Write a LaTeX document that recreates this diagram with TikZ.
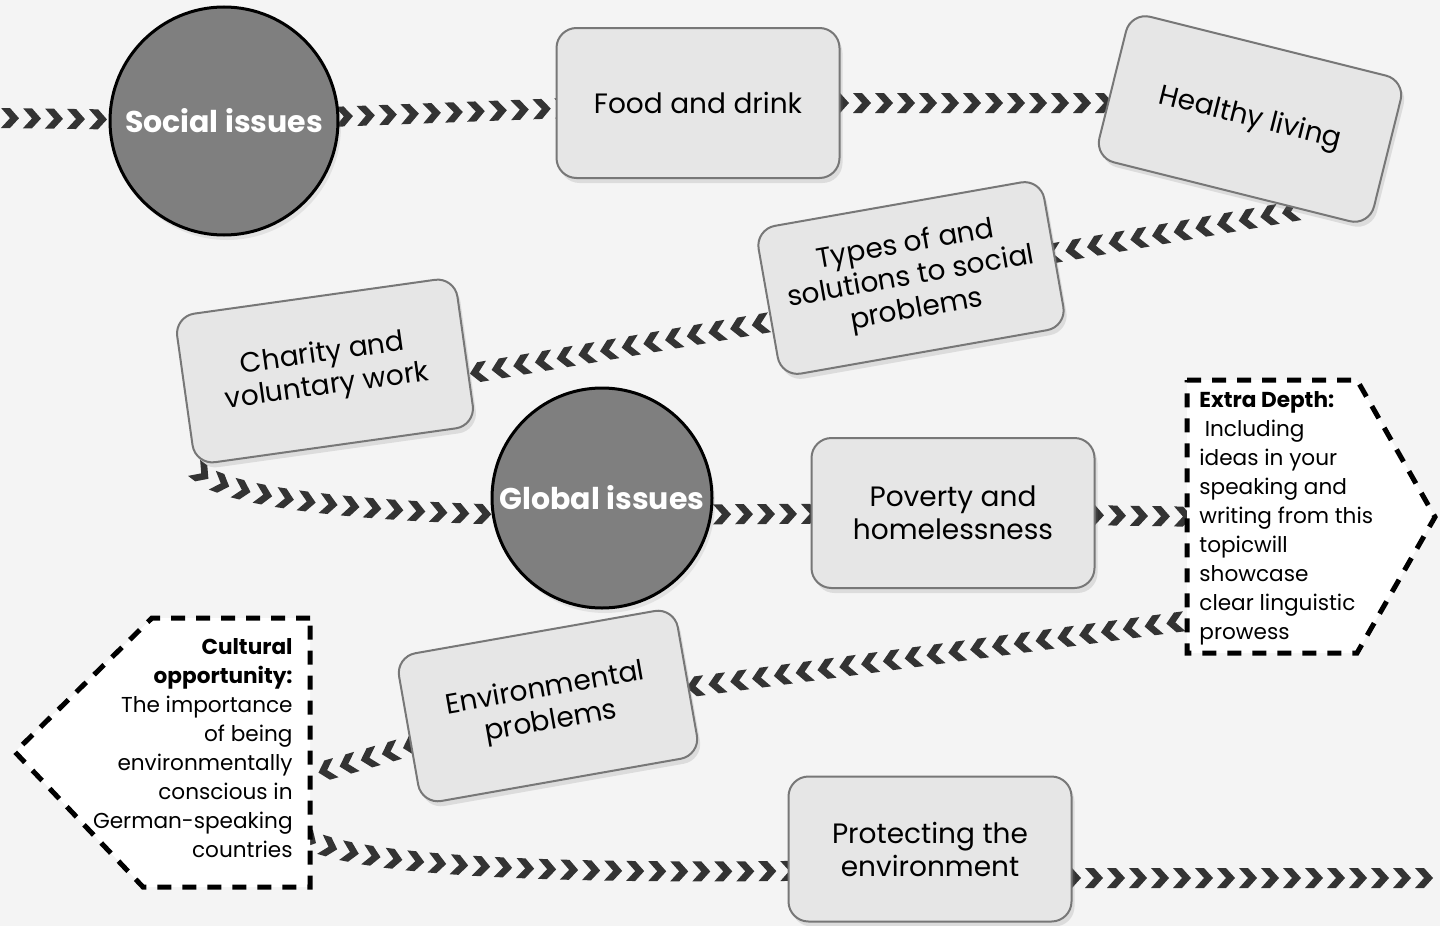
\documentclass[tikz,border=0pt]{standalone}
\usepackage{fontspec}
\setmainfont{Poppins}
\usetikzlibrary{calc,shadows,decorations.markings}

\definecolor{chevgray}{HTML}{333333}
\definecolor{boxfill}{HTML}{E6E6E6}
\definecolor{boxline}{HTML}{777777}
\definecolor{hubfill}{HTML}{7F7F7F}
\definecolor{pagebg}{HTML}{F4F4F4}

\pgfdeclarelayer{bg}
\pgfsetlayers{bg,main}

\begin{document}
\begin{tikzpicture}[x=0.5pt,y=-0.5pt,
    topicbox/.style={rectangle,rounded corners=10pt,draw=boxline,line width=1pt,
      fill=boxfill,minimum width=141.5pt,minimum height=75pt,align=center,
      font=\fontsize{14}{16.5}\selectfont,
      drop shadow={opacity=0.2,shadow xshift=1.5pt,shadow yshift=-2.5pt}},
    hub/.style={circle,draw=black,line width=1.5pt,fill=hubfill,text=white,
      inner sep=0pt,font=\bfseries\fontsize{15}{18}\selectfont,
      drop shadow={opacity=0.15,shadow xshift=1.5pt,shadow yshift=-2.5pt}},
    note/.style={inner ysep=0pt,font=\fontsize{10.8}{14.5}\selectfont},
    notebox/.style={draw=black,line width=2.5pt,dash pattern=on 7pt off 5.5pt,fill=white},
    chevrons/.style={decorate,decoration={markings,
      mark=between positions 5pt and -4pt step 11pt with
        {\fill[chevgray] (-4.5pt,5pt) -- (0pt,5pt) -- (4.5pt,0pt) -- (0pt,-5pt)
           -- (-4.5pt,-5pt) -- (0pt,0pt) -- cycle;}}}
  ]

  \useasboundingbox (0,0) rectangle (1440,926);

  % hubs
  \node[hub,minimum size=114pt] (si) at (224,121) {Social issues};
  \node[hub,minimum size=110pt] (gl) at (602,498) {Global issues};

  % topics
  \node[topicbox] (fd) at (698,103) {Food and drink};
  \node[topicbox,rotate=-14] (hl) at (1250,119) {Healthy living};
  \node[topicbox,rotate=10,minimum width=145pt] (tp) at (911,278) {Types of and\\solutions to social\\problems};
  \node[topicbox,rotate=8] (ch) at (325,371) {Charity and\\voluntary work};
  \node[topicbox] (pv) at (953,513) {Poverty and\\homelessness};
  \node[topicbox,rotate=10] (en) at (548,706) {Environmental\\problems};
  \node[topicbox,minimum height=72.5pt] (pr) at (930,849) {Protecting the\\environment};

  % notes
  \draw[notebox] (1187,380) -- (1357,380) -- (1435,517) -- (1357,653) -- (1187,653) -- cycle;
  \node[note,anchor=north west,inner xsep=6pt,align=left] (ed) at (1187,391)
    {\textbf{Extra Depth:}\\\hspace*{0.25em}Including\\ideas in your\\speaking and\\writing from this\\topicwill\\showcase\\clear linguistic\\prowess};

  \draw[notebox] (310,618) -- (152,618) -- (15,752) -- (143,887) -- (310,887) -- cycle;
  \node[note,anchor=north east,inner xsep=8.5pt,align=right] (co) at (310,638)
    {\textbf{Cultural}\\\textbf{opportunity:}\\The importance\\of being\\environmentally\\conscious in\\German-speaking\\countries};

  \coordinate (lft) at (0,118);
  \coordinate (rgt) at (1440,878);

  \begin{pgfonlayer}{bg}
    \fill[pagebg] (0,0) rectangle (1440,926);
    \path[chevrons] (lft) -- (si.center);
    \path[chevrons] (si.center) -- (fd.center);
    \path[chevrons] (fd.center) -- (fd.center -| hl.center);
    \path[chevrons] ($(hl.south)!0.5!(hl.south east)$) -- (tp.center);
    \path[chevrons] ($(tp.west)!0.25!(tp.south west)$) -- ($(ch.east)!0.3!(ch.south east)$);
    \path[chevrons] (ch.south west) to[out=-60,in=180,looseness=0.35] ($(gl.center)+(0,18)$);
    \path[chevrons] ($(gl.center)+(0,17)$) -- (pv.center);
    \path[chevrons] (pv.center) -- (ed.center);
    \path[chevrons] ($(ed.west)+(20,100)$) -- (en.center);
    \path[chevrons] (en.center) -- ($(co.east)+(-10,30)$);
    \path[chevrons] ($(co.east)+(-10,85)$) to[out=-45,in=180,looseness=0.3] ($(pr.center)+(0,20)$);
    \path[chevrons] (pr.center |- rgt) -- (rgt);
  \end{pgfonlayer}

\end{tikzpicture}
\end{document}
